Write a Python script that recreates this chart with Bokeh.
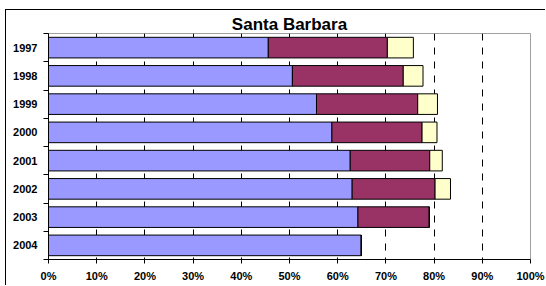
from bokeh.plotting import figure
from bokeh.models import FixedTicker, NumeralTickFormatter, ColumnDataSource, Range1d
from bokeh.embed import file_html
from bokeh.resources import INLINE

years = ["1997", "1998", "1999", "2000", "2001", "2002", "2003", "2004"]
blue = [0.456, 0.506, 0.556, 0.588, 0.626, 0.630, 0.642, 0.649]
maroon = [0.247, 0.230, 0.210, 0.187, 0.165, 0.172, 0.148, 0.0]
yellow = [0.054, 0.041, 0.041, 0.031, 0.026, 0.032, 0.0, 0.0]
x_ticks = [0, 0.1, 0.2, 0.3, 0.4, 0.5, 0.6, 0.7, 0.8, 0.9, 1.0]

n = len(years)
pos = [i + 0.5 for i in range(n)]
src = ColumnDataSource(dict(y=pos, blue=blue, maroon=maroon, yellow=yellow))

FONT = "Liberation Sans"

p = figure(width=540, height=276, output_backend="svg", toolbar_location=None,
           x_range=Range1d(0, 1), y_range=Range1d(n, 0),
           title="Santa Barbara",
           min_border_left=42, min_border_right=16, min_border_top=23, min_border_bottom=27,
           styles={"border-left": "1px solid black", "border-top": "1px solid black",
                   "margin-left": "5px", "margin-top": "9px"})

p.title.align = "center"
p.title.text_font = FONT
p.title.text_font_size = "17px"
p.title.text_font_style = "bold"
p.title.text_color = "black"
p.title.standoff = 0
p.title.offset = 0

p.hbar_stack(["blue", "maroon", "yellow"], y="y", height=0.73, source=src,
             color=["#9999FF", "#993366", "#FFFFCC"], line_color="black", line_width=1)

p.outline_line_color = "#a0a0a0"
p.outline_line_width = 1
p.background_fill_color = "white"
p.border_fill_color = "white"

# x axis
p.xaxis.ticker = FixedTicker(ticks=x_ticks)
p.xaxis.formatter = NumeralTickFormatter(format="0%")
p.xaxis.major_tick_in = 0
p.xaxis.major_tick_out = 4
p.xaxis.minor_tick_line_color = None
p.xaxis.axis_line_color = "black"
p.xaxis.major_tick_line_color = "black"
p.xaxis.major_label_text_font = FONT
p.xaxis.major_label_text_font_size = "11px"
p.xaxis.major_label_text_font_style = "bold"
p.xaxis.major_label_text_color = "black"
p.xaxis.major_label_standoff = 6

# y axis
p.yaxis.ticker = FixedTicker(ticks=pos, minor_ticks=list(range(n + 1)))
p.yaxis.major_label_overrides = {pos[i]: years[i] for i in range(n)}
p.yaxis.major_tick_in = 0
p.yaxis.major_tick_out = 0
p.yaxis.minor_tick_in = 0
p.yaxis.minor_tick_out = 5
p.yaxis.minor_tick_line_color = "black"
p.yaxis.axis_line_color = "black"
p.yaxis.major_label_text_font = FONT
p.yaxis.major_label_text_font_size = "11px"
p.yaxis.major_label_text_font_style = "bold"
p.yaxis.major_label_text_color = "black"
p.yaxis.major_label_standoff = 6

# grid
p.xgrid.ticker = FixedTicker(ticks=x_ticks[1:-1])
p.xgrid.grid_line_color = "black"
p.xgrid.grid_line_dash = "7 7"
p.xgrid.grid_line_width = 1
p.ygrid.grid_line_color = None

open("out.html", "w").write(file_html(p, INLINE))
